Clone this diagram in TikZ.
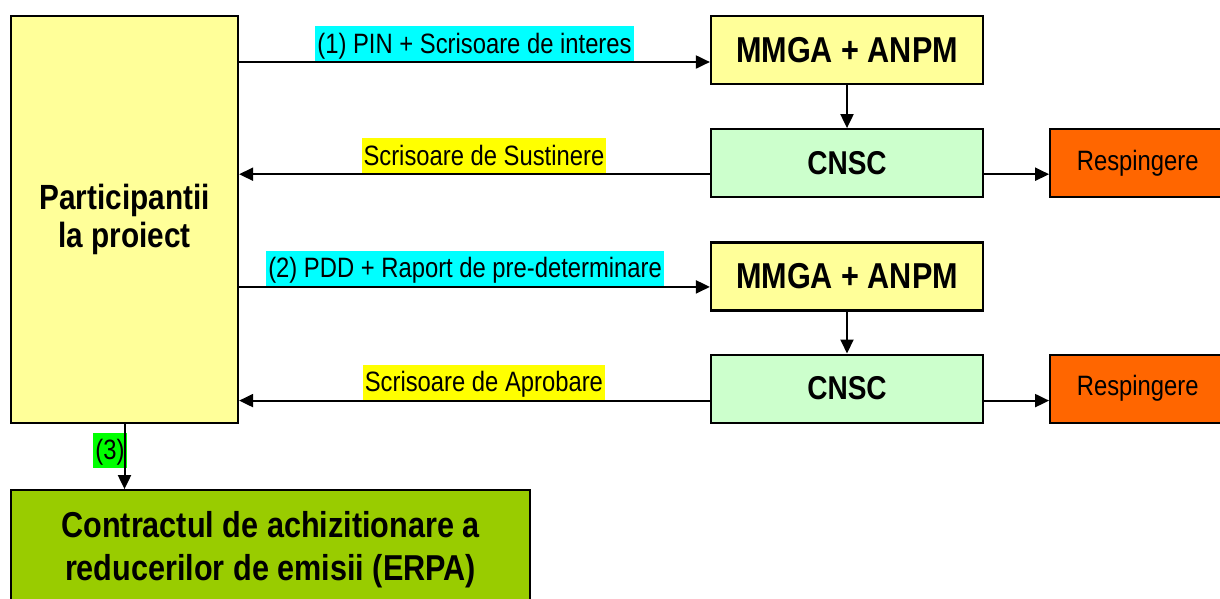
\documentclass[tikz,border=0pt]{standalone}
\usepackage{fontspec}
\setmainfont[FakeStretch=0.85]{Liberation Sans}
\usepackage{tikz}
\usetikzlibrary{arrows.meta,positioning}
\definecolor{paleyellow}{HTML}{FFFF99}
\definecolor{palegreen}{HTML}{CCFFCC}
\definecolor{rejorange}{HTML}{FF6600}
\definecolor{contractgreen}{HTML}{99CC00}
\definecolor{hlcyan}{HTML}{00FFFF}
\definecolor{hlyellow}{HTML}{FFFF00}
\definecolor{hlgreen}{HTML}{00FF00}
\tikzstyle{box}      = [draw,line width=2.2pt,inner sep=0pt,align=center]
\tikzstyle{party}    = [box,fill=paleyellow,minimum width=227pt,minimum height=407pt,font=\fontsize{35}{38}\selectfont\bfseries]
\tikzstyle{minist}   = [box,fill=paleyellow,minimum width=272pt,minimum height=68pt,font=\fontsize{36}{40}\selectfont\bfseries]
\tikzstyle{council}  = [box,fill=palegreen,minimum width=272pt,minimum height=68pt,font=\fontsize{33}{38}\selectfont\bfseries]
\tikzstyle{reject}   = [box,fill=rejorange,minimum width=175pt,minimum height=68pt,font=\fontsize{28}{32}\selectfont]
\tikzstyle{contract} = [box,fill=contractgreen,minimum width=519pt,minimum height=118pt,font=\fontsize{36}{43}\selectfont\bfseries]
\tikzstyle{msg}      = [inner xsep=2pt,inner ysep=1pt,text height=26pt,text depth=7pt,font=\fontsize{28}{32}\selectfont]

\begin{document}
\begin{tikzpicture}[x=1pt,y=-1pt,->,>={Triangle[length=14pt,width=13pt]},line width=2pt]

\useasboundingbox (0,0) rectangle (1220,598);
\clip (0,0) rectangle (1220,598);

\node[party]    (P)  at (124.5,219.5)  {Participantii\\la proiect};
\node[minist]   (M1) at (847,50)       {MMGA + ANPM};
\node[council]  (C1) [below=43pt of M1] {CNSC};
\node[reject]   (R1) [right=65pt of C1] {Respingere};
\node[minist]   (M2) [below=43pt of C1] {MMGA + ANPM};
\node[council]  (C2) [below=42pt of M2] {CNSC};
\node[reject]   (R2) [right=65pt of C2] {Respingere};
\node[contract] (E)  [below=65pt of P.south west,anchor=north west] {Contractul de achizitionare a\\reducerilor de emisii (ERPA)};

\coordinate (in1)  at ([yshift=-12pt]M1.west);
\coordinate (out1) at ([yshift=-11pt]C1.west);
\coordinate (in2)  at ([yshift=-10.5pt]M2.west);
\coordinate (out2) at ([yshift=-12pt]C2.west);

\draw (P.east |- in1) -- node[msg,fill=hlcyan,above] {(1) PIN + Scrisoare de interes} (in1);
\draw (M1) -- (C1);
\draw (out1) -- node[msg,fill=hlyellow,above,pos=.48] {Scrisoare de Sustinere} (P.east |- out1);
\draw (C1.east |- out1) -- (R1.west |- out1);

\draw (P.east |- in2) -- node[msg,fill=hlcyan,above,pos=.48] {(2) PDD + Raport de pre-determinare} (in2);
\draw (M2) -- (C2);
\draw (out2) -- node[msg,fill=hlyellow,above,pos=.48] {Scrisoare de Aprobare} (P.east |- out2);
\draw (C2.east |- out2) -- (R2.west |- out2);

\draw (P.south) -- node[msg,fill=hlgreen,behind path,anchor=east,pos=.4,xshift=3pt] {(3)} (P.south |- E.north);

\end{tikzpicture}
\end{document}
